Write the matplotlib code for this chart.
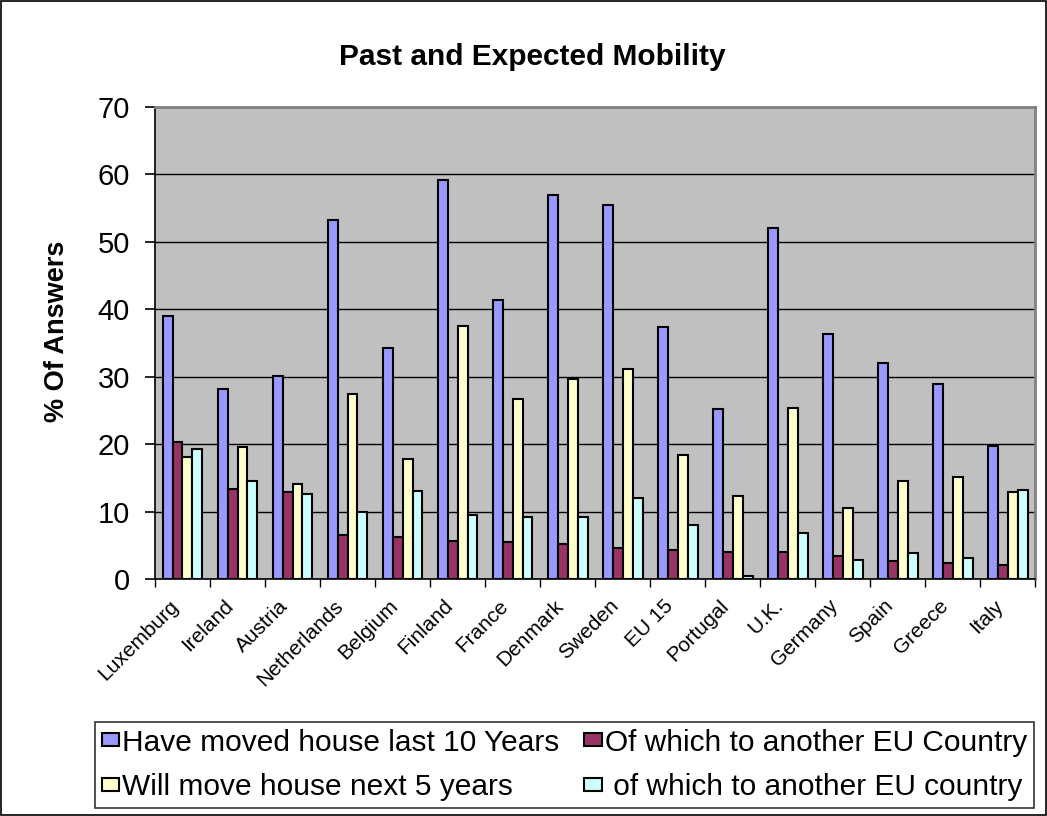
import matplotlib.pyplot as plt
from matplotlib.patches import Rectangle
from matplotlib.transforms import ScaledTranslation
import numpy as np

plt.rcParams['font.family'] = ['Liberation Sans', 'DejaVu Sans']

# Data
countries = ["Luxemburg", "Ireland", "Austria", "Netherlands", "Belgium", "Finland",
             "France", "Denmark", "Sweden", "EU 15", "Portugal", "U.K.",
             "Germany", "Spain", "Greece", "Italy"]
moved_10y = [39.0, 28.2, 30.1, 53.3, 34.3, 59.1, 41.4, 56.9, 55.5, 37.4, 25.2, 52.0, 36.3, 32.1, 28.9, 19.7]
moved_eu = [20.3, 13.4, 13.0, 6.5, 6.3, 5.7, 5.5, 5.2, 4.6, 4.3, 4.1, 4.1, 3.4, 2.7, 2.4, 2.1]
will_move_5y = [18.2, 19.6, 14.1, 27.4, 17.8, 37.6, 26.7, 29.7, 31.2, 18.4, 12.4, 25.4, 10.5, 14.5, 15.1, 13.0]
will_move_eu = [19.25, 14.5, 12.7, 10.0, 13.1, 9.6, 9.2, 9.2, 12.0, 8.0, 0.5, 6.9, 2.8, 3.9, 3.2, 13.3]

series = [moved_10y, moved_eu, will_move_5y, will_move_eu]
labels = ["Have moved house last 10 Years", "Of which to another EU Country",
          "Will move house next 5 years", " of which to another EU country"]
colors = ["#9999FF", "#993366", "#FFFFCC", "#CCFFFF"]

fig = plt.figure(figsize=(10.47, 8.16), dpi=100)
ax = fig.add_axes([0.148, 0.290, 0.841, 0.579])
ax.set_facecolor("#C0C0C0")

x = np.arange(len(countries))
bar_width = 0.18
handles = []
for i, (vals, lab, col) in enumerate(zip(series, labels, colors)):
    b = ax.bar(x + (i - 1.5) * bar_width, vals, bar_width, color=col,
               edgecolor="black", linewidth=1.5, label=lab, zorder=3)
    handles.append(b)

ax.set_xlim(-0.5, len(countries) - 0.5)
ax.set_ylim(0, 70)
ax.set_yticks(range(0, 71, 10))
ax.yaxis.grid(True, color="black", linewidth=1, zorder=1)
ax.set_axisbelow(True)
ax.tick_params(axis="y", labelsize=21, direction="out", length=7, width=1.2, pad=11)

# category labels at centres, tick marks at the boundaries
ax.set_xticks(x)
ax.set_xticklabels(countries, rotation=45, ha="right", rotation_mode="anchor", fontsize=15)
ax.tick_params(axis="x", which="major", length=0, pad=12)
ax.set_xticks(np.arange(-0.5, len(countries), 1), minor=True)
ax.tick_params(axis="x", which="minor", direction="out", length=6, width=1)
shift = ScaledTranslation(-14 / 100, 0, fig.dpi_scale_trans)
for lbl in ax.get_xticklabels():
    lbl.set_transform(lbl.get_transform() + shift)

for side in ["top", "right"]:
    ax.spines[side].set_color("#808080")
    ax.spines[side].set_linewidth(2)
ax.spines["left"].set_linewidth(1.2)
ax.spines["bottom"].set_linewidth(1.2)

fig.text(0.054, 0.594, "% Of Answers", rotation=90, ha="center", va="center",
         fontsize=19.5, fontweight="bold")
fig.text(0.508, 0.930, "Past and Expected Mobility", ha="center", va="center",
         fontsize=21.5, fontweight="bold")

leg = fig.legend([handles[0], handles[2], handles[1], handles[3]],
                 [labels[0], labels[2], labels[1], labels[3]],
                 ncol=2, loc="upper left", bbox_to_anchor=(0.0907, 0.1152),
                 fontsize=21.5, frameon=True, fancybox=False, edgecolor="black",
                 handlelength=0.6, handleheight=0.3, handletextpad=0.08,
                 columnspacing=0.85, labelspacing=0.55, borderpad=0.22, borderaxespad=0)
leg.get_frame().set_linewidth(1.2)

fig.patches.append(Rectangle((0.001, 0.001), 0.998, 0.998, transform=fig.transFigure,
                             fill=False, edgecolor="black", linewidth=1.2))

fig.savefig("out.png", dpi=100)
